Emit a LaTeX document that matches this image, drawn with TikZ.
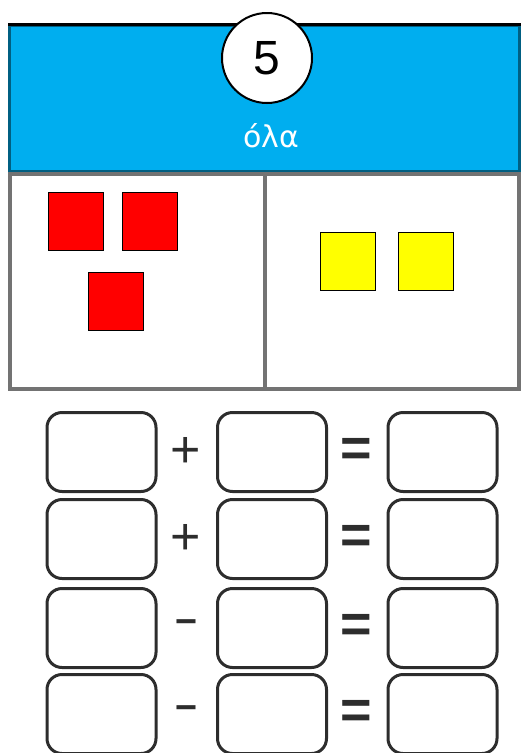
\documentclass[tikz,border=0pt]{standalone}
\usepackage{fontspec}
\setmainfont{Liberation Sans}
\newfontfamily\wordfont{DejaVu Sans}
\usetikzlibrary{positioning}
\definecolor{headblue}{RGB}{0,174,239}
\definecolor{headdark}{RGB}{0,95,130}
\definecolor{tilered}{RGB}{255,0,0}
\definecolor{tileyellow}{RGB}{255,255,0}
\definecolor{panelgray}{RGB}{115,115,115}
\definecolor{boxgray}{RGB}{45,45,45}
\tikzset{
  tile/.style={draw=black,line width=1pt,minimum width=55pt,minimum height=58pt,inner sep=0pt},
  eqbox/.style={draw=boxgray,line width=3pt,rounded corners=15pt,minimum width=109pt,minimum height=79pt,inner sep=0pt},
  opsign/.style={font=\fontsize{52}{52}\selectfont,text=boxgray,inner sep=0pt},
  eqsign/.style={font=\fontsize{54}{54}\selectfont\bfseries,text=boxgray,inner sep=0pt}
}

\begin{document}
\begin{tikzpicture}[x=1pt,y=-1pt]
\useasboundingbox (0,0) rectangle (521,753);
% header band
\node[fill=headblue,draw=headdark,line width=3pt,minimum width=510pt,minimum height=146pt,inner sep=0pt] (head) at (264.5,98.5) {};
\draw[black,line width=3pt] (head.north west) -- (head.north east);
\draw[boxgray,line width=3pt] (head.south west) -- (head.south east);
\node[circle,fill=white,draw=black,line width=2pt,minimum size=90pt,inner sep=0pt,
      font=\fontsize{48}{48}\selectfont] (num) at (267,58) {5};
\node[text=white,font=\wordfont\fontsize{30}{30}\selectfont] (word) at (271,136) {όλα};
% lower panel
\node[draw=panelgray,line width=4pt,minimum width=509pt,minimum height=215pt,inner sep=0pt] (panel) at (264.5,281.5) {};
\draw[panelgray,line width=4pt] (panel.north) -- (panel.south);
% tiles
\node[tile,fill=tilered] (r1) at (75.5,221) {};
\node[tile,fill=tilered] (r2) at (149.5,221) {};
\node[tile,fill=tilered] (r3) at (115.5,301) {};
\node[tile,fill=tileyellow] (y1) at (347.5,261.5) {};
\node[tile,fill=tileyellow] (y2) at (425.5,261.5) {};
% equations
\foreach \y/\op [count=\i] in {452/+,539/+,628/\scalebox{1.5}[1]{-},714/\scalebox{1.5}[1]{-}}{
  \node[eqbox] (a\i) at (101.5,\y) {};
  \node[eqbox] (b\i) at (272,\y) {};
  \node[eqbox] (c\i) at (442.5,\y) {};
  \node[opsign] (p\i) at (186,\y) {\op};
  \node[eqsign] (q\i) at (356,\y) {=};
}
\end{tikzpicture}
\end{document}
